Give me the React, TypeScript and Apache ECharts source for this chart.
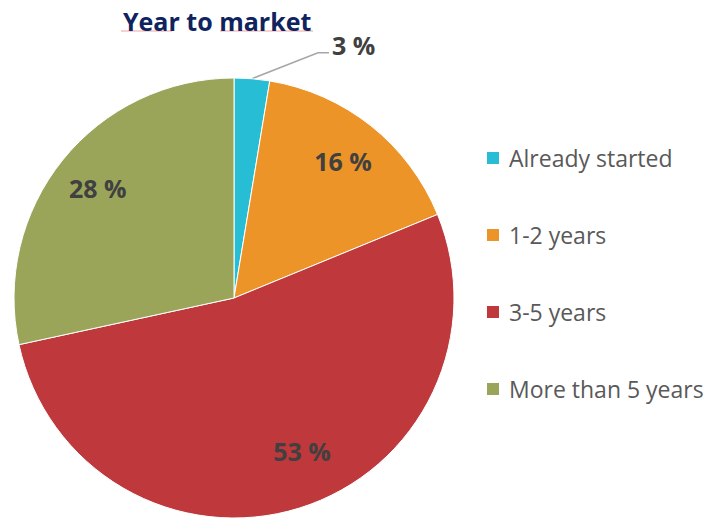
import React, { useEffect, useRef } from "react";
import * as echarts from "echarts";

const titleText = "Year to market";
const categories = ["Already started", "1-2 years", "3-5 years", "More than 5 years"];
const shares = [2.6, 16.2, 52.8, 28.4];
const colors = ["#27BDD5", "#EC9428", "#BF383B", "#9AA55A"];

const FONT = "'Open Sans', 'Noto Sans', sans-serif";

export default function App() {
  const ref = useRef<HTMLDivElement>(null);
  useEffect(() => {
    if (!ref.current) return;
    const chart = echarts.init(ref.current, undefined, { renderer: "svg" });
    const labelStyle = {
      fontFamily: FONT,
      fontSize: 25,
      fontWeight: "bold" as const,
      color: "#404040",
    };
    const fmt = (p: any) => `${Math.round(p.percent)} %`;
    chart.setOption({
      animation: false,
      backgroundColor: "#ffffff",
      title: {
        text: titleText,
        left: 118,
        top: 3,
        textStyle: { fontFamily: FONT, fontSize: 25, fontWeight: "bold", color: "#0F245E" },
      },
      graphic: [
        { type: "line", shape: { x1: 121, y1: 31, x2: 172, y2: 31 }, style: { stroke: "#EFA3A3", lineWidth: 1 }, silent: true },
        { type: "line", shape: { x1: 220, y1: 31, x2: 313, y2: 31 }, style: { stroke: "#EFA3A3", lineWidth: 1 }, silent: true },
      ],
      legend: {
        orient: "vertical",
        left: 485,
        top: 146,
        padding: 0,
        itemWidth: 14,
        itemHeight: 14,
        itemGap: 53,
        icon: "rect",
        selectedMode: false,
        textStyle: { fontFamily: FONT, fontSize: 23, color: "#595959", lineHeight: 24, padding: [0, 0, 0, 4] },
        data: categories.map((c, i) => ({ name: c, itemStyle: { color: colors[i] } })),
      },
      series: [
        {
          type: "pie",
          center: [234, 298],
          radius: 220,
          startAngle: 90,
          clockwise: true,
          silent: true,
          emphasis: { disabled: true },
          itemStyle: { borderColor: "#ffffff", borderWidth: 1 },
          data: categories.map((c, i) => ({
            name: c,
            value: shares[i],
            itemStyle: { color: colors[i] },
            label: { show: i === 0 },
            labelLine: { show: i === 0 },
          })),
          label: { position: "outside", formatter: fmt, ...labelStyle },
          labelLine: { lineStyle: { color: "#A6A6A6", width: 1.5 } },
          labelLayout: (params: any) => {
            if (params.dataIndex !== 0 || !params.labelLinePoints) return {};
            const p0 = params.labelLinePoints[0];
            return {
              x: p0[0] + 80,
              y: p0[1] - 34,
              align: "left",
              verticalAlign: "middle",
              labelLinePoints: [
                [p0[0], p0[1]],
                [p0[0] + 66, p0[1] - 26],
                [p0[0] + 77, p0[1] - 26],
              ],
            };
          },
        },
        {
          type: "pie",
          center: [234, 298],
          radius: [124, 220],
          startAngle: 90,
          clockwise: true,
          silent: true,
          emphasis: { disabled: true },
          itemStyle: { color: "rgba(0,0,0,0)" },
          data: categories.map((c, i) => ({
            name: c,
            value: shares[i],
            label: { show: i !== 0 },
          })),
          label: { position: "inside", formatter: fmt, ...labelStyle },
          labelLine: { show: false },
          labelLayout: (params: any) => {
            if (params.dataIndex === 2) return { dx: 16, dy: -14 };
            return {};
          },
        },
      ],
    });
    return () => chart.dispose();
  }, []);
  return (
    <div
      ref={ref}
      style={{ position: "absolute", left: 0, top: 0, width: 708, height: 520 }}
    />
  );
}
